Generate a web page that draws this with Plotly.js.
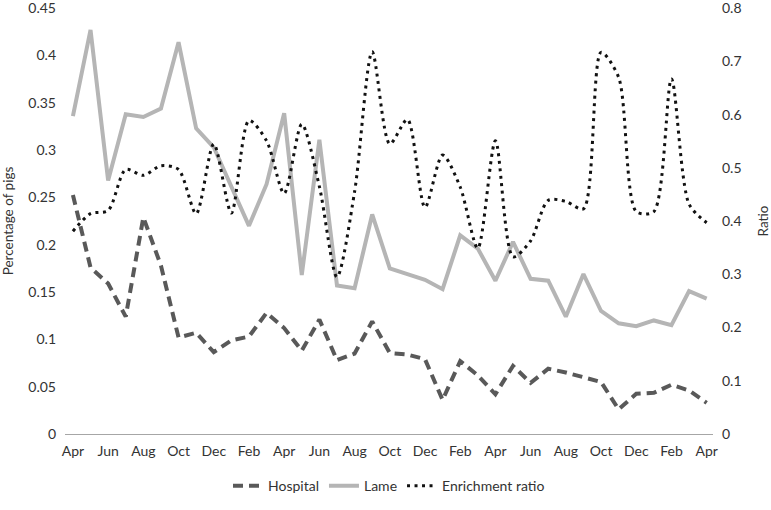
<!DOCTYPE html>
<html>
<head>
<meta charset="utf-8">
<script src="https://cdn.plot.ly/plotly-3.0.1.min.js"></script>
<style>
  body { margin: 0; padding: 0; background: #fff; }
  #chart { width: 771px; height: 510px; }
</style>
</head>
<body>
<div id="chart"></div>
<script>
// monthly data, Apr to Apr (3 years, 37 months)
const monthIndex = [];
for (let i = 0; i < 37; i++) monthIndex.push(i);

const tickMonths = ["Apr", "Jun", "Aug", "Oct", "Dec", "Feb", "Apr", "Jun", "Aug", "Oct",
  "Dec", "Feb", "Apr", "Jun", "Aug", "Oct", "Dec", "Feb", "Apr"];
const tickPos = tickMonths.map((m, i) => i * 2);

const hospital = [0.2525, 0.176, 0.159, 0.124, 0.229, 0.178, 0.102, 0.107, 0.0865, 0.099,
  0.103, 0.128, 0.112, 0.088, 0.121, 0.078, 0.085, 0.119, 0.0855, 0.084,
  0.079, 0.036, 0.077, 0.062, 0.042, 0.072, 0.054, 0.069, 0.065, 0.060,
  0.055, 0.026, 0.0425, 0.0435, 0.052, 0.046, 0.033];

const lame = [0.336, 0.427, 0.268, 0.338, 0.335, 0.344, 0.414, 0.323, 0.303, 0.262,
  0.220, 0.264, 0.339, 0.168, 0.311, 0.157, 0.154, 0.232, 0.175, 0.169,
  0.163, 0.153, 0.210, 0.196, 0.162, 0.203, 0.164, 0.162, 0.124, 0.169,
  0.130, 0.117, 0.114, 0.120, 0.115, 0.151, 0.143];

const enrichment = [0.381, 0.414, 0.420, 0.497, 0.486, 0.504, 0.497, 0.414, 0.545, 0.415,
  0.589, 0.551, 0.452, 0.582, 0.465, 0.295, 0.455, 0.718, 0.545, 0.591,
  0.426, 0.524, 0.464, 0.349, 0.551, 0.333, 0.363, 0.439, 0.437, 0.423,
  0.717, 0.670, 0.418, 0.418, 0.667, 0.432, 0.397];

const fontFam = "Lato, 'Open Sans', sans-serif";

const data = [
  {
    x: monthIndex,
    y: hospital,
    name: "Hospital",
    mode: "lines",
    line: { color: "#595959", width: 4, dash: "10px,6px" },
  },
  {
    x: monthIndex,
    y: lame,
    name: "Lame",
    mode: "lines",
    line: { color: "#b5b5b5", width: 4 },
  },
  {
    x: monthIndex,
    y: enrichment,
    name: "Enrichment ratio",
    mode: "lines",
    yaxis: "y2",
    line: { color: "#111111", width: 3, dash: "3px,4.5px", shape: "spline", smoothing: 0.8 },
  },
];

const layout = {
  width: 771,
  height: 510,
  margin: { l: 65, r: 58, t: 8, b: 55 },
  paper_bgcolor: "#ffffff",
  plot_bgcolor: "#ffffff",
  font: { family: fontFam, size: 14, color: "#333333" },
  showlegend: true,
  legend: {
    orientation: "h",
    x: 0.5,
    xanchor: "center",
    y: -0.085,
    yanchor: "top",
    font: { size: 14, color: "#333333" },
  },
  xaxis: {
    range: [-0.45, 36.36],
    tickvals: tickPos,
    ticktext: tickMonths,
    showgrid: false,
    zeroline: false,
    showline: true,
    linecolor: "#a6a6a6",
    linewidth: 1,
    ticks: "",
    ticklabelstandoff: 4,
    tickangle: 0,
  },
  yaxis: {
    range: [0, 0.4502],
    tickvals: [0, 0.05, 0.1, 0.15, 0.2, 0.25, 0.3, 0.35, 0.4, 0.45],
    ticktext: ["0", "0.05", "0.1", "0.15", "0.2", "0.25", "0.3", "0.35", "0.4", "0.45"],
    ticklabeloverflow: "allow",
    showgrid: false,
    zeroline: false,
    showline: false,
    ticks: "",
    ticklabelstandoff: 8,
    title: {
      text: "Percentage of pigs",
      font: { size: 13.5, color: "#333333" },
      standoff: 12,
    },
  },
  yaxis2: {
    range: [0, 0.8004],
    tickvals: [0, 0.1, 0.2, 0.3, 0.4, 0.5, 0.6, 0.7, 0.8],
    ticktext: ["0", "0.1", "0.2", "0.3", "0.4", "0.5", "0.6", "0.7", "0.8"],
    ticklabeloverflow: "allow",
    overlaying: "y",
    side: "right",
    showgrid: false,
    zeroline: false,
    showline: false,
    ticks: "",
    ticklabelstandoff: 8,
    title: {
      text: "Ratio",
      font: { size: 13.5, color: "#333333" },
      standoff: 20,
    },
  },
};

Plotly.newPlot("chart", data, layout, { displayModeBar: false });
</script>
</body>
</html>
